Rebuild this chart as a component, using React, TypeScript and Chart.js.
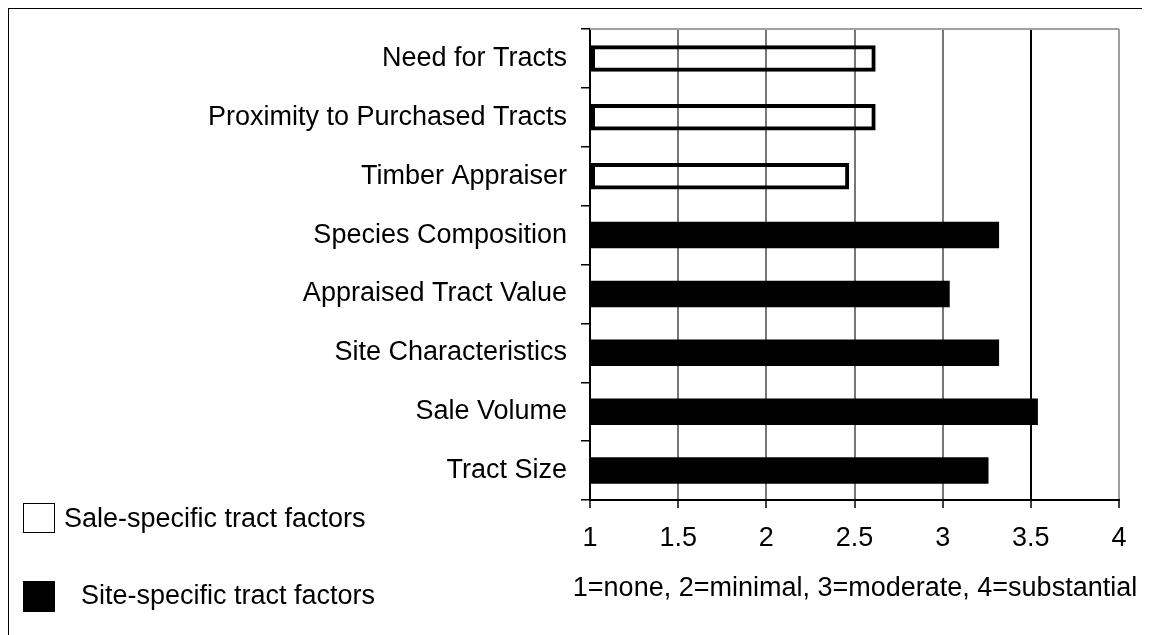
import React, { useEffect, useRef } from "react";
import { Chart, registerables } from "chart.js";

Chart.register(...registerables);

const categories = [
  "Need for Tracts",
  "Proximity to Purchased Tracts",
  "Timber Appraiser",
  "Species Composition",
  "Appraised Tract Value",
  "Site Characteristics",
  "Sale Volume",
  "Tract Size",
];
const saleSpecific = [2.62, 2.62, 2.47, null, null, null, null, null];
const siteSpecific = [null, null, null, 3.32, 3.04, 3.32, 3.54, 3.26];
const xTicks = [1, 1.5, 2, 2.5, 3, 3.5, 4];
const xTickLabels = ["1", "1.5", "2", "2.5", "3", "3.5", "4"];
const xTitle = "1=none, 2=minimal, 3=moderate, 4=substantial";
const legendLabels = ["Sale-specific tract factors", "Site-specific tract factors"];

const FONT = '"Liberation Sans", Arial, sans-serif';
const FS = 27;

const topBorder = {
  id: "topBorder",
  beforeDatasetsDraw(chart: any) {
    const { ctx, chartArea } = chart;
    ctx.save();
    ctx.strokeStyle = "#a0a0a0";
    ctx.lineWidth = 2;
    ctx.beginPath();
    ctx.moveTo(chartArea.left, chartArea.top);
    ctx.lineTo(chartArea.right, chartArea.top);
    ctx.stroke();
    ctx.restore();
  },
};

export default function App() {
  const ref = useRef<HTMLCanvasElement | null>(null);

  useEffect(() => {
    if (!ref.current) return;
    Chart.defaults.font.family = FONT;
    const chart = new Chart(ref.current, {
      type: "bar",
      data: {
        labels: categories,
        datasets: [
          {
            label: legendLabels[0],
            data: saleSpecific,
            base: 1,
            backgroundColor: "rgba(0,0,0,0)",
            borderColor: "#000",
            borderWidth: 4,
            borderSkipped: false,
            barPercentage: 0.45,
            categoryPercentage: 1,
          } as any,
          {
            label: legendLabels[1],
            data: siteSpecific,
            base: 1,
            backgroundColor: "#000",
            borderWidth: 0,
            barPercentage: 0.45,
            categoryPercentage: 1,
          } as any,
        ],
      },
      options: {
        indexAxis: "y",
        responsive: false,
        animation: false,
        devicePixelRatio: 1,
        skipNull: true,
        layout: { padding: { top: 21, right: 31, bottom: 25, left: 0 } },
        plugins: {
          legend: { display: false },
          tooltip: { enabled: false },
        },
        scales: {
          x: {
            type: "linear",
            position: "bottom",
            min: 1,
            max: 4,
            afterBuildTicks: (s: any) => {
              s.ticks = xTicks.map((v) => ({ value: v }));
            },
            ticks: {
              font: { size: FS, family: FONT },
              color: "#000",
              padding: 14,
              maxRotation: 0,
              callback: (_v: any, i: number) => xTickLabels[i],
            },
            grid: {
              color: (ctx: any) =>
                ctx.tick && ctx.tick.value === 3.5
                  ? "#000"
                  : ctx.tick && ctx.tick.value === 4
                  ? "#a0a0a0"
                  : "#777",
              lineWidth: 2,
              drawTicks: true,
              tickLength: 8,
              tickColor: "#000",
              tickWidth: 1.5,
            },
            border: { display: true, color: "#000", width: 2 },
            title: { display: false },
            afterFit: (s: any) => {
              s.height = 110;
              s.paddingLeft = 0;
              s.paddingRight = 0;
              s.paddingTop = 0;
              s.paddingBottom = 0;
            },
          },
          y: {
            type: "category",
            position: "left",
            ticks: {
              font: { size: FS, family: FONT },
              color: "#000",
              padding: 14,
              autoSkip: false,
            },
            grid: {
              drawOnChartArea: false,
              drawTicks: true,
              tickLength: 9,
              color: "#000",
              lineWidth: 1.5,
              offset: true,
            },
            border: { display: true, color: "#000", width: 2 },
            afterFit: (s: any) => {
              s.width = 582;
              s.paddingLeft = 0;
              s.paddingRight = 0;
              s.paddingTop = 0;
              s.paddingBottom = 0;
            },
          },
        },
      } as any,
      plugins: [topBorder],
    });
    return () => chart.destroy();
  }, []);

  const textStyle: React.CSSProperties = {
    position: "absolute",
    fontFamily: FONT,
    fontSize: FS,
    lineHeight: "30px",
    color: "#000",
    whiteSpace: "nowrap",
  };

  return (
    <div style={{ position: "relative", width: 1142, height: 627, overflow: "hidden" }}>
      <div
        style={{
          position: "absolute",
          left: 0,
          top: 0,
          width: 1142,
          height: 627,
          boxSizing: "border-box",
          borderTop: "1.5px solid #000",
          borderLeft: "1.5px solid #000",
        }}
      />
      <canvas ref={ref} width={1142} height={627} style={{ position: "absolute", left: 0, top: 0 }} />
      <div style={{ ...textStyle, left: 547, top: 563.5, width: 600, textAlign: "center" }}>{xTitle}</div>
      <div
        style={{
          position: "absolute",
          left: 15,
          top: 495,
          width: 32,
          height: 30,
          boxSizing: "border-box",
          border: "1.5px solid #000",
          background: "#fff",
        }}
      />
      <div style={{ ...textStyle, left: 56, top: 494.5 }}>{legendLabels[0]}</div>
      <div
        style={{
          position: "absolute",
          left: 15,
          top: 573,
          width: 32,
          height: 31,
          background: "#000",
        }}
      />
      <div style={{ ...textStyle, left: 73, top: 572 }}>{legendLabels[1]}</div>
    </div>
  );
}
